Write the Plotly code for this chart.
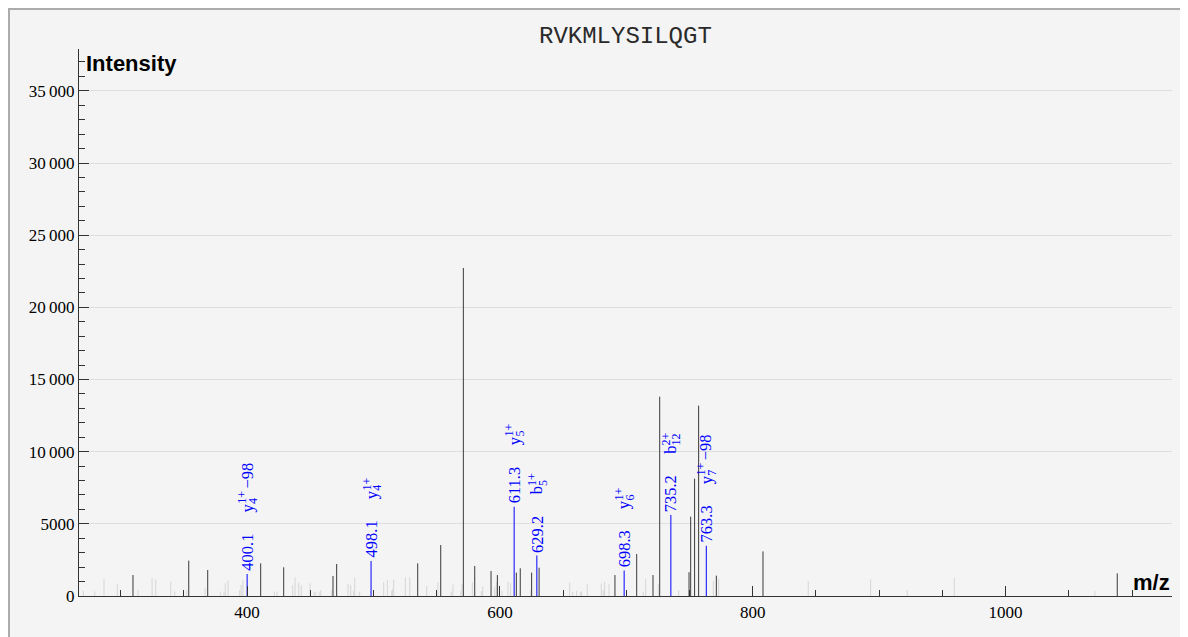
import plotly.graph_objects as go

# ---------------- data ----------------
peak_mz = [
    270.5, 279.6, 286.9, 297.4, 309.8, 313.8, 324.9, 327.8, 339.7, 342.8,
    352.3, 353.9, 366.8, 368.9, 378.9, 381.8, 382.8, 385.0, 394.2, 395.3,
    396.8, 410.8, 421.6, 423.7, 429.0, 436.1, 438.0, 440.9, 442.9, 449.8,
    453.0, 454.3, 457.0, 458.3, 467.0, 468.0, 470.9, 479.9, 482.0, 484.4,
    485.2, 489.1, 508.1, 511.0, 514.4, 515.2, 516.0, 525.2, 528.7, 535.0,
    542.1, 551.0, 553.2, 561.6, 562.9, 569.2, 570.0, 571.1, 578.2, 580.1,
    585.3, 586.4, 593.0, 595.9, 597.2, 598.0, 601.7, 606.4, 608.5, 613.0,
    616.1, 624.4, 625.1, 631.0, 655.2, 657.6, 660.7, 663.9, 664.7, 669.1,
    680.2, 681.8, 682.9, 686.3, 691.0, 708.2, 713.4, 715.3, 721.1, 725.3,
    726.4, 741.4, 749.6, 750.9, 754.0, 757.2, 768.8, 771.2, 773.0, 808.1,
    843.9, 893.2, 922.2, 959.4, 1070.6, 1088.3,
]
peak_intensity = [
    370, 320, 1180, 810, 1455, 415, 1250, 1160, 990, 320,
    400, 2450, 560, 1800, 300, 300, 880, 1090, 400, 760,
    1090, 2260, 300, 300, 1990, 760, 1290, 930, 760, 880,
    300, 300, 300, 400, 400, 1390, 2220, 850, 760, 370,
    1290, 300, 950, 1090, 370, 500, 1140, 1290, 1290, 2260,
    690, 950, 3530, 300, 810, 370, 850, 22730, 950, 2080,
    320, 650, 1730, 600, 950, 1450, 370, 990, 880, 1620,
    1920, 400, 1620, 1960, 950, 300, 370, 300, 300, 850,
    850, 400, 990, 850, 1450, 2910, 300, 1200, 1450, 850,
    13810, 400, 1650, 5500, 8130, 13190, 1060, 1410, 1200, 3090,
    1040, 1150, 400, 1250, 350, 1570,
]

ann_mz = [400.1, 498.1, 611.3, 629.2, 698.3, 735.2, 763.3]
ann_intensity = [1520, 2430, 6190, 2800, 1760, 5610, 3490]
ion_letter = ["y", "y", "y", "b", "y", "b", "y"]
ion_sub = ["4", "4", "5", "5", "6", "12", "7"]
ion_sup = ["1+", "1+", "1+", "1+", "1+", "2+", "1+"]
ion_suffix = ["\u221298", "", "", "", "", "", "\u221298"]

peptide = "RVKMLYSILQGT"
x_tick_vals = [400, 600, 800, 1000]
x_tick_text = ["400", "600", "800", "1000"]
y_tick_vals = [0, 5000, 10000, 15000, 20000, 25000, 30000, 35000]
y_tick_text = ["0", "5000", "10\u2009000", "15\u2009000", "20\u2009000",
               "25\u2009000", "30\u2009000", "35\u2009000"]

# ---------------- layout constants ----------------
OFF = 8                      # page body margin
W, H = 1180, 629             # figure size (page is 1188x637 incl. margin)
ML, MR, MT, MB = 71, 16, 41, 41
PW = W - ML - MR
PH = H - MT - MB
XR = [267.1, 1131.6]
YR = [0, 37900]

SERIF = "Liberation Serif, Times New Roman, serif"
SANS = "Liberation Sans, Arial, sans-serif"
MONO = "Liberation Mono, Courier New, monospace"
BLUE = "#0000ff"
FS_MAIN = 16.5
FS_SCR = 12

CHAR_W = {".": 0.25, "+": 0.564, "\u2212": 0.564, "y": 0.5, "b": 0.5}


def text_w(s, fs):
    return sum(CHAR_W.get(c, 0.5) for c in s) * fs


def sx(px):
    """screen x pixel -> paper coordinate"""
    return (px - OFF - ML) / PW


def sy(py):
    """screen y pixel -> paper coordinate"""
    return (H - MB - (py - OFF)) / PH


def stems(xs, ys):
    X, Y = [], []
    for x, y in zip(xs, ys):
        X += [x, x, None]
        Y += [0, y, None]
    return X, Y


THRESH = 1350
light = [(m, i) for m, i in zip(peak_mz, peak_intensity) if i < THRESH]
dark = [(m, i) for m, i in zip(peak_mz, peak_intensity) if i >= THRESH]

fig = go.Figure()
lx, ly = stems([p[0] for p in light], [p[1] for p in light])
fig.add_trace(go.Scatter(x=lx, y=ly, mode="lines",
                         line=dict(color="#d6d6d6", width=1), hoverinfo="skip"))
dx, dy = stems([p[0] for p in dark], [p[1] for p in dark])
fig.add_trace(go.Scatter(x=dx, y=dy, mode="lines",
                         line=dict(color="#3a3a3a", width=1), hoverinfo="skip"))
bx, by = stems(ann_mz, ann_intensity)
fig.add_trace(go.Scatter(x=bx, y=by, mode="lines",
                         line=dict(color="#2a2aff", width=1.2), hoverinfo="skip"))

annotations = []


def rot_ann(text, x, y, yshift, xshift, fs):
    return dict(text=text, x=x, y=y, xref="x", yref="y", showarrow=False,
                textangle=-90, xanchor="center", yanchor="bottom",
                xshift=xshift, yshift=yshift, borderpad=0, borderwidth=0,
                font=dict(family=SERIF, size=fs, color=BLUE))


SUP_DX = -5.0
SUB_DX = 5.6
for m, inten, let, sub, sup, suf in zip(ann_mz, ann_intensity, ion_letter,
                                         ion_sub, ion_sup, ion_suffix):
    lab = f"{m:.1f}"
    a0 = 3
    annotations.append(rot_ann(lab, m, inten, a0, 0, FS_MAIN))
    a_ion = a0 + text_w(lab, FS_MAIN) + 21
    annotations.append(rot_ann(let, m, inten, a_ion, 0, FS_MAIN))
    a_scr = a_ion + text_w(let, FS_MAIN) + 0.5
    annotations.append(rot_ann(sup, m, inten, a_scr, SUP_DX, FS_SCR))
    annotations.append(rot_ann(sub, m, inten, a_scr, SUB_DX, FS_SCR))
    if suf:
        a_suf = a_scr + max(text_w(sup, FS_SCR), text_w(sub, FS_SCR)) + 3
        annotations.append(rot_ann(suf, m, inten, a_suf, 0, FS_MAIN))

annotations.append(dict(text=peptide, xref="paper", yref="paper",
                        x=0.5, y=sy(37), xanchor="center",
                        yanchor="middle", showarrow=False,
                        font=dict(family=MONO, size=24, color="#2a2a2a")))
annotations.append(dict(text="<b>Intensity</b>", xref="paper", yref="paper",
                        x=sx(84), y=sy(63),
                        xanchor="left", yanchor="middle", showarrow=False,
                        font=dict(family=SANS, size=22, color="#000")))
annotations.append(dict(text="<b>m/z</b>", xref="paper", yref="paper",
                        x=1.0, y=sy(582), xanchor="right",
                        yanchor="middle", showarrow=False,
                        font=dict(family=SANS, size=22, color="#000")))

shapes = [dict(type="rect", xref="paper", yref="paper", layer="below",
               x0=sx(9), x1=sx(1186),
               y0=sy(660), y1=sy(9),
               fillcolor="#f4f4f4", line=dict(color="#ababab", width=2))]

fig.update_layout(
    width=W, height=H, margin=dict(l=ML, r=MR, t=MT, b=MB, pad=0),
    paper_bgcolor="#ffffff", plot_bgcolor="#f4f4f4",
    showlegend=False, annotations=annotations, shapes=shapes,
    font=dict(family=SERIF, color="#000"),
)
fig.update_xaxes(range=XR, showline=True, linecolor="#333", linewidth=1.3,
                 ticks="inside", ticklen=10, tickcolor="#333", tickwidth=1,
                 tickmode="array", tickvals=x_tick_vals, ticktext=x_tick_text,
                 tickfont=dict(family=SERIF, size=17, color="#000"),
                 showgrid=False, zeroline=False,
                 minor=dict(tickmode="linear", tick0=0, dtick=50,
                            ticks="inside", ticklen=6, tickcolor="#333",
                            showgrid=False))
fig.update_yaxes(range=YR, showline=True, linecolor="#333", linewidth=1,
                 ticks="inside", ticklen=10, tickcolor="#333", tickwidth=1,
                 tickmode="array", tickvals=y_tick_vals, ticktext=y_tick_text,
                 tickfont=dict(family=SERIF, size=17, color="#000"),
                 showgrid=True, gridcolor="#dedede", gridwidth=1,
                 zeroline=False,
                 minor=dict(tickmode="linear", tick0=0, dtick=1000,
                            ticks="inside", ticklen=6, tickcolor="#333",
                            showgrid=False))

fig.write_html("out.html")
